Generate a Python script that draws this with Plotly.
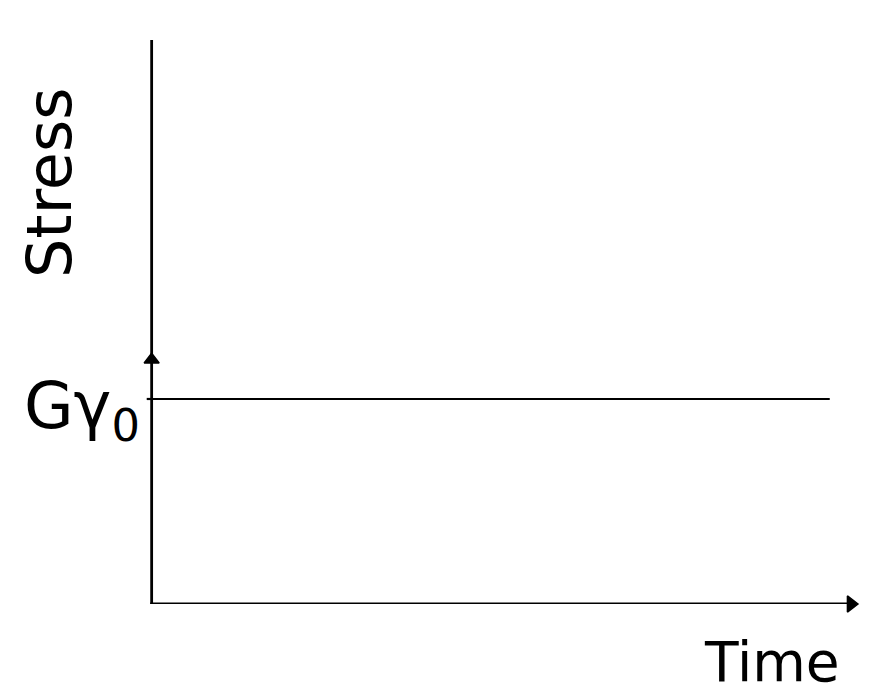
import plotly.graph_objects as go

# Data: stress held constant at G*gamma0 over time (normalized units)
time_values = [0.0, 0.96]
stress_values = [0.3635, 0.3635]
axis_labels = ["Time", "Stress"]
level_label = "Gγ<sub>0</sub>"

FONT = "DejaVu Sans"
LW = 2.8

fig = go.Figure()
fig.add_trace(go.Scatter(
    x=time_values, y=stress_values, mode="lines",
    line=dict(color="black", width=2.2), showlegend=False, hoverinfo="skip",
))

# arrowheads of the axes (y axis arrow sits mid-axis, x axis arrow at the end)
fig.add_trace(go.Scatter(
    x=[0, 0.99], y=[0.433, 0], mode="markers",
    marker=dict(symbol=["triangle-up", "triangle-right"], size=[13, 14], color="#000000",
                opacity=1, line=dict(width=1.5, color="#000000")),
    cliponaxis=False, showlegend=False, hoverinfo="skip",
))

shapes = [
    dict(type="line", xref="x", yref="y", x0=0, y0=0, x1=0, y1=1,
         line=dict(color="black", width=LW)),
    dict(type="line", xref="x", yref="y", x0=-0.002, y0=0, x1=0.985, y1=0,
         line=dict(color="black", width=LW)),
    dict(type="line", xref="x", yref="y", x0=-0.007, y0=0.3635, x1=0, y1=0.3635,
         line=dict(color="black", width=2.2)),
]

ann = []
ann.append(dict(x=-0.1348, y=0.7465, xref="paper", yref="paper", text=axis_labels[1],
                textangle=-90, showarrow=False, font=dict(family=FONT, size=62, color="black"),
                xanchor="center", yanchor="middle"))
ann.append(dict(x=0.879, y=-0.1028, xref="paper", yref="paper", text=axis_labels[0],
                showarrow=False, font=dict(family=FONT, size=55, color="black"),
                xanchor="center", yanchor="middle"))
ann.append(dict(x=-0.0055, y=0.3635, xref="paper", yref="y", text=level_label,
                showarrow=False, font=dict(family=FONT, size=64, color="black"),
                xanchor="right", yanchor="middle", yshift=-12))

fig.update_layout(
    width=870, height=687,
    margin=dict(l=138, r=20, t=32, b=91),
    paper_bgcolor="white", plot_bgcolor="white",
    xaxis=dict(range=[-0.008, 1.0], visible=False, fixedrange=True),
    yaxis=dict(range=[0, 1], visible=False, fixedrange=True),
    shapes=shapes,
    annotations=ann,
    showlegend=False,
)

fig.write_html("out.html")
